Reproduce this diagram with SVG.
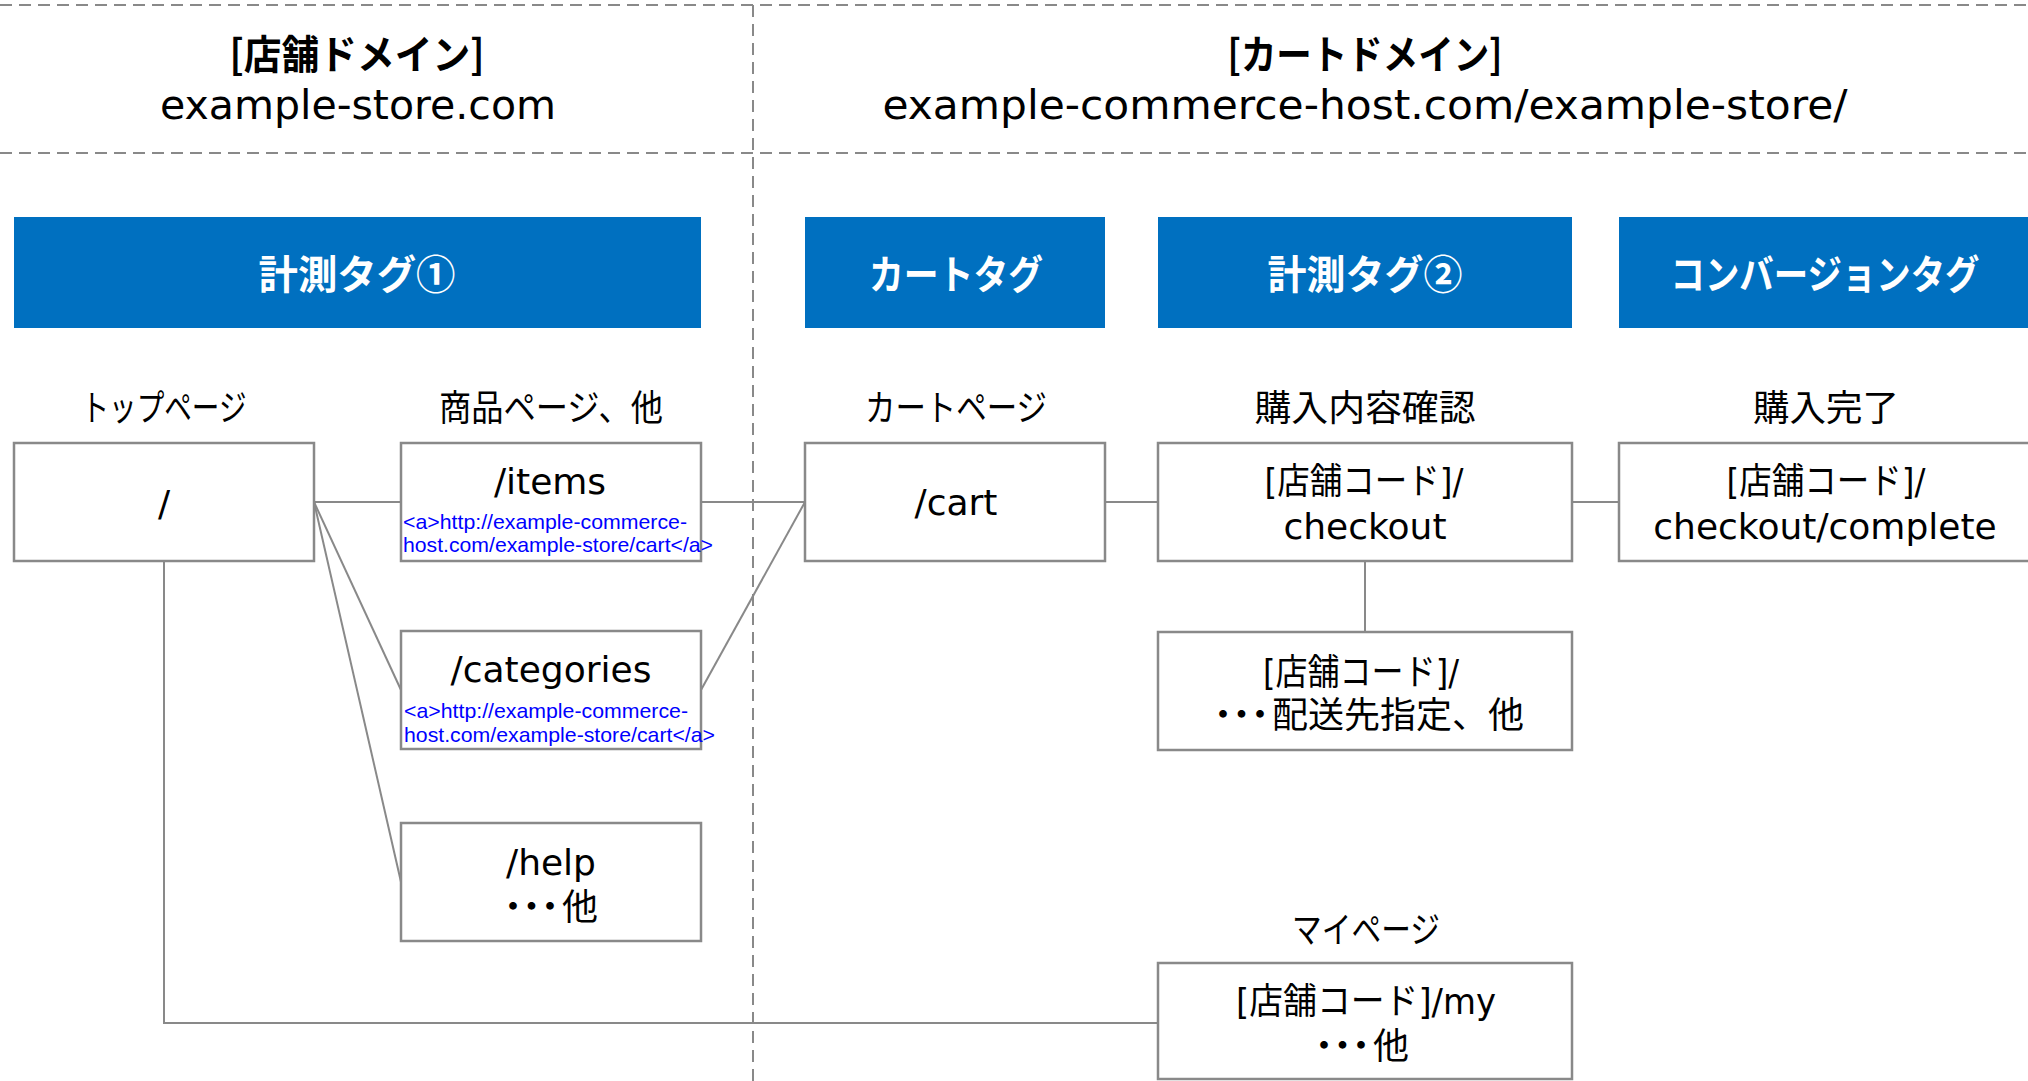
<svg xmlns="http://www.w3.org/2000/svg" width="2028" height="1081" viewBox="0 0 2028 1081">
<style>
.bg{fill:#ffffff}
.dash{stroke:#898989;stroke-width:2;stroke-dasharray:12 7;fill:none}
.tag{fill:#0070c0}
.tagt{fill:#ffffff;font-family:"Noto Sans CJK JP",sans-serif;font-weight:bold;font-size:40px;text-anchor:middle}
.hd{fill:#000;font-family:"Noto Sans CJK JP",sans-serif;font-weight:bold;font-size:40px;text-anchor:middle}
.url{fill:#000;font-family:"DejaVu Sans","Noto Sans CJK JP",sans-serif;font-size:40px;text-anchor:middle}
.box{fill:#ffffff;stroke:#898989;stroke-width:2.5}
.bt{fill:#000;font-family:"DejaVu Sans","Noto Sans CJK JP",sans-serif;font-size:36px;text-anchor:middle}
.bs{fill:#000;font-family:"Noto Sans CJK JP",sans-serif;font-size:36px;text-anchor:start}
.lb{fill:#000;font-family:"Noto Sans CJK JP",sans-serif;font-size:36px;text-anchor:middle}
.lk{fill:#0000ff;font-family:"Liberation Sans",Arial,sans-serif;font-size:21px}
.con{stroke:#898989;stroke-width:2;fill:none}
</style>
<rect class="bg" x="0" y="0" width="2028" height="1081"/>
<g id="guides">
<line class="dash" x1="0" y1="5" x2="2028" y2="5"/>
<line class="dash" x1="0" y1="153" x2="2028" y2="153"/>
<line class="dash" x1="753" y1="5" x2="753" y2="1081"/>
</g>
<g id="header-store">
<text class="hd" x="357" y="69" textLength="255" lengthAdjust="spacingAndGlyphs">[店舗ドメイン]</text>
<text class="url" x="358" y="119" textLength="396" lengthAdjust="spacingAndGlyphs">example-store.com</text>
</g>
<g id="header-cart">
<text class="hd" x="1365" y="69" textLength="275" lengthAdjust="spacingAndGlyphs">[カートドメイン]</text>
<text class="url" x="1365" y="119" textLength="965" lengthAdjust="spacingAndGlyphs">example-commerce-host.com/example-store/</text>
</g>
<g id="connectors">
<line class="con" x1="314" y1="502" x2="401" y2="502"/>
<line class="con" x1="314" y1="502" x2="401" y2="690"/>
<line class="con" x1="314" y1="502" x2="401" y2="882"/>
<line class="con" x1="701" y1="502" x2="805" y2="502"/>
<line class="con" x1="701" y1="690" x2="805" y2="502"/>
<line class="con" x1="1105" y1="502" x2="1158" y2="502"/>
<line class="con" x1="1572" y1="502" x2="1619" y2="502"/>
<line class="con" x1="1365" y1="561" x2="1365" y2="632"/>
<polyline class="con" points="164,561 164,1023 1158,1023"/>
</g>
<g id="tag1">
<rect class="tag" x="14" y="217" width="687" height="111"/>
<text class="tagt" x="357" y="289" textLength="197" lengthAdjust="spacingAndGlyphs">計測タグ①</text>
</g>
<g id="tag-cart">
<rect class="tag" x="805" y="217" width="300" height="111"/>
<text class="tagt" x="956" y="289" textLength="174" lengthAdjust="spacingAndGlyphs">カートタグ</text>
</g>
<g id="tag2">
<rect class="tag" x="1158" y="217" width="414" height="111"/>
<text class="tagt" x="1365" y="289" textLength="195" lengthAdjust="spacingAndGlyphs">計測タグ②</text>
</g>
<g id="tag-conv">
<rect class="tag" x="1619" y="217" width="414" height="111"/>
<text class="tagt" x="1825" y="289" textLength="309" lengthAdjust="spacingAndGlyphs">コンバージョンタグ</text>
</g>
<g id="top">
<text class="lb" x="164" y="421" textLength="165" lengthAdjust="spacingAndGlyphs">トップページ</text>
<rect class="box" x="14" y="443" width="300" height="118"/>
<text class="bt" x="164" y="516">/</text>
</g>
<g id="items">
<text class="lb" x="551" y="421" textLength="224" lengthAdjust="spacingAndGlyphs">商品ページ、他</text>
<rect class="box" x="401" y="443" width="300" height="118"/>
<text class="bt" x="550" y="494">/items</text>
<text class="lk" x="403" y="529" textLength="284" lengthAdjust="spacingAndGlyphs">&lt;a&gt;http://example-commerce-</text>
<text class="lk" x="403" y="552" textLength="310" lengthAdjust="spacingAndGlyphs">host.com/example-store/cart&lt;/a&gt;</text>
</g>
<g id="categories">
<rect class="box" x="401" y="631" width="300" height="118"/>
<text class="bt" x="551" y="682">/categories</text>
<text class="lk" x="404" y="718" textLength="284" lengthAdjust="spacingAndGlyphs">&lt;a&gt;http://example-commerce-</text>
<text class="lk" x="404" y="742" textLength="311" lengthAdjust="spacingAndGlyphs">host.com/example-store/cart&lt;/a&gt;</text>
</g>
<g id="help">
<rect class="box" x="401" y="823" width="300" height="118"/>
<text class="bt" x="551" y="875">/help</text>
<text class="bs" x="495" y="920" dx="0 -17.5 -17.5 -6">・・・他</text>
</g>
<g id="cart">
<text class="lb" x="956" y="421" textLength="182" lengthAdjust="spacingAndGlyphs">カートページ</text>
<rect class="box" x="805" y="443" width="300" height="118"/>
<text class="bt" x="956" y="515">/cart</text>
</g>
<g id="checkout">
<text class="lb" x="1365" y="421" textLength="221" lengthAdjust="spacingAndGlyphs">購入内容確認</text>
<rect class="box" x="1158" y="443" width="414" height="118"/>
<text class="bt" x="1364" y="494" textLength="199" lengthAdjust="spacingAndGlyphs">[店舗コード]/</text>
<text class="bt" x="1365" y="539">checkout</text>
</g>
<g id="complete">
<text class="lb" x="1826" y="421" textLength="146" lengthAdjust="spacingAndGlyphs">購入完了</text>
<rect class="box" x="1619" y="443" width="414" height="118"/>
<text class="bt" x="1826" y="494" textLength="199" lengthAdjust="spacingAndGlyphs">[店舗コード]/</text>
<text class="bt" x="1825" y="539">checkout/complete</text>
</g>
<g id="shipping">
<rect class="box" x="1158" y="632" width="414" height="118"/>
<text class="bt" x="1361" y="685" textLength="196" lengthAdjust="spacingAndGlyphs">[店舗コード]/</text>
<text class="bs" x="1205" y="728" dx="0 -17.5 -17.5 -6">・・・配送先指定、他</text>
</g>
<g id="mypage">
<text class="lb" x="1366" y="943" textLength="148" lengthAdjust="spacingAndGlyphs">マイページ</text>
<rect class="box" x="1158" y="963" width="414" height="116"/>
<text class="bt" x="1366" y="1014" textLength="260" lengthAdjust="spacingAndGlyphs">[店舗コード]/my</text>
<text class="bs" x="1306" y="1059" dx="0 -17.5 -17.5 -6">・・・他</text>
</g>
</svg>
